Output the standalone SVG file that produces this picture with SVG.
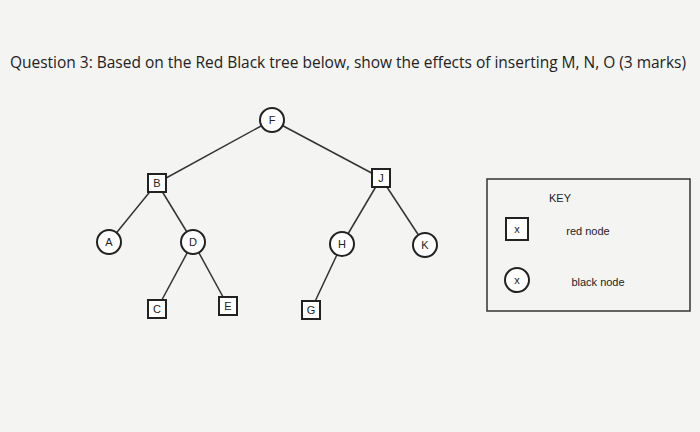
<svg xmlns="http://www.w3.org/2000/svg" width="700" height="432" viewBox="0 0 700 432">
<style>
.n{fill:#fff;stroke:#222;stroke-width:2}
.t{font-family:"Liberation Sans",sans-serif;font-size:11px;fill:#222;text-anchor:middle}
.e{stroke:#333;stroke-width:1.5}
</style>
<rect width="700" height="432" fill="#f4f4f2"/>
<text x="10" y="68" font-family="Open Sans,sans-serif" font-size="15.5" textLength="676" fill="#222">Question 3: Based on the Red Black tree below, show the effects of inserting M, N, O (3 marks)</text>
<g id="connectors">
<line class="e" x1="272" y1="120" x2="157" y2="183"/>
<line class="e" x1="272" y1="120" x2="381" y2="178"/>
<line class="e" x1="157" y1="183" x2="109" y2="242"/>
<line class="e" x1="157" y1="183" x2="193" y2="242"/>
<line class="e" x1="381" y1="178" x2="342" y2="244"/>
<line class="e" x1="381" y1="178" x2="425" y2="245"/>
<line class="e" x1="193" y1="242" x2="157" y2="309"/>
<line class="e" x1="193" y1="242" x2="228" y2="306"/>
<line class="e" x1="342" y1="244" x2="311" y2="310"/>
</g>
<g id="F"><circle class="n" cx="272" cy="120" r="12"/><text class="t" x="272" y="124">F</text></g>
<g id="B"><rect class="n" x="148" y="174" width="18" height="18"/><text class="t" x="157" y="187">B</text></g>
<g id="J"><rect class="n" x="372" y="169" width="18" height="18"/><text class="t" x="381" y="182">J</text></g>
<g id="A"><circle class="n" cx="109" cy="242" r="12"/><text class="t" x="109" y="246">A</text></g>
<g id="D"><circle class="n" cx="193" cy="242" r="12"/><text class="t" x="193" y="246">D</text></g>
<g id="H"><circle class="n" cx="342" cy="244" r="12"/><text class="t" x="342" y="248">H</text></g>
<g id="K"><circle class="n" cx="425" cy="245" r="12"/><text class="t" x="425" y="249">K</text></g>
<g id="C"><rect class="n" x="148" y="300" width="18" height="18"/><text class="t" x="157" y="313">C</text></g>
<g id="E"><rect class="n" x="219" y="297" width="18" height="18"/><text class="t" x="228" y="310">E</text></g>
<g id="G"><rect class="n" x="302" y="301" width="18" height="18"/><text class="t" x="311" y="314">G</text></g>
<g id="key">
<rect x="487" y="179" width="203" height="132" fill="none" stroke="#333" stroke-width="1.5"/>
<text class="t" x="560" y="202" font-size="10">KEY</text>
<rect class="n" x="506" y="218" width="22" height="22"/><text class="t" x="517" y="233">x</text>
<text class="t" x="588" y="235">red node</text>
<circle class="n" cx="517" cy="280" r="12"/><text class="t" x="517" y="284">x</text>
<text class="t" x="598" y="286">black node</text>
</g>
</svg>
